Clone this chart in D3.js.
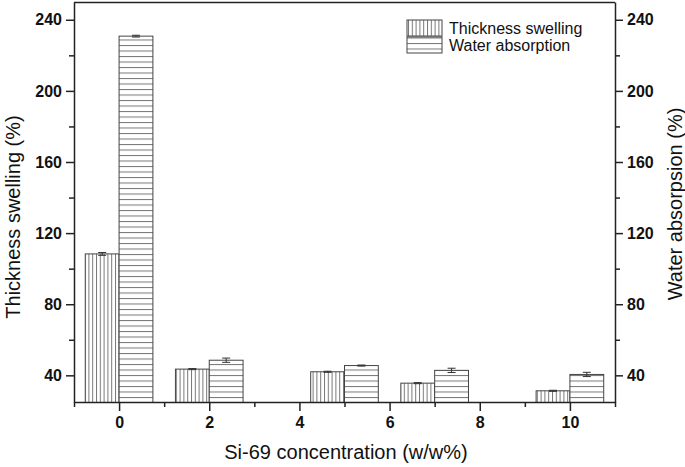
<!DOCTYPE html>
<html><head><meta charset="utf-8">
<script src="https://cdn.jsdelivr.net/npm/d3@7"></script>
<style>body{margin:0;background:#fff}svg{display:block}</style>
</head><body>
<script>
const concentrations = [0, 2, 5, 7, 10];
const thickness = [108.3, 43.5, 42.0, 35.6, 31.3];
const thicknessErr = [0.8, 0.3, 0.3, 0.3, 0.3];
const water = [230.8, 48.5, 45.5, 42.8, 40.5];
const waterErr = [0.5, 1.2, 0.3, 1.2, 1.2];
const xTicks = [0, 2, 4, 6, 8, 10];
const xMinor = [-1, 1, 3, 5, 7, 9, 11];
const yTicks = [40, 80, 120, 160, 200, 240];
const yMinor = [60, 100, 140, 180, 220];
const seriesNames = ["Thickness swelling", "Water absorption"];

const W = 685, H = 467;
const m = {left: 74, right: 615, top: 2, bottom: 402};
const svg = d3.select("body").append("svg").attr("width", W).attr("height", H)
  .style("font-family", "'Liberation Sans', Arial, sans-serif");

const x = d3.scaleLinear().domain([-1, 11]).range([m.left, m.right]);
const y = d3.scaleLinear().domain([25, 250]).range([m.bottom, m.top]);
const barW = 0.75;

const defs = svg.append("defs");
const pv = defs.append("pattern").attr("id", "pv").attr("patternUnits", "userSpaceOnUse")
  .attr("width", 3.8).attr("height", 10).attr("x", 1);
pv.append("rect").attr("width", 3.8).attr("height", 10).attr("fill", "#fff");
pv.append("line").attr("x1", 0.5).attr("x2", 0.5).attr("y1", 0).attr("y2", 10)
  .attr("stroke", "#777").attr("stroke-width", 1);
const ph = defs.append("pattern").attr("id", "ph").attr("patternUnits", "userSpaceOnUse")
  .attr("width", 10).attr("height", 5.5).attr("y", 1);
ph.append("rect").attr("width", 10).attr("height", 5.5).attr("fill", "#fff");
ph.append("line").attr("x1", 0).attr("x2", 10).attr("y1", 0.5).attr("y2", 0.5)
  .attr("stroke", "#777").attr("stroke-width", 1);

defs.append("clipPath").attr("id", "clip").append("rect")
  .attr("x", m.left).attr("y", m.top).attr("width", m.right - m.left).attr("height", m.bottom - m.top);

const g = svg.append("g").attr("clip-path", "url(#clip)");
const data = concentrations.map((c, i) => ({c, t: thickness[i], te: thicknessErr[i], w: water[i], we: waterErr[i]}));

g.selectAll(".bt").data(data).join("rect")
  .attr("x", d => x(d.c - barW)).attr("width", d => x(d.c) - x(d.c - barW))
  .attr("y", d => y(d.t)).attr("height", d => y(0) - y(d.t))
  .attr("fill", "url(#pv)").attr("stroke", "#444").attr("stroke-width", 1);
g.selectAll(".bw").data(data).join("rect")
  .attr("x", d => x(d.c)).attr("width", d => x(d.c + barW) - x(d.c))
  .attr("y", d => y(d.w)).attr("height", d => y(0) - y(d.w))
  .attr("fill", "url(#ph)").attr("stroke", "#444").attr("stroke-width", 1);

function errBars(acc, err, off) {
  const eg = svg.append("g").attr("stroke", "#333").attr("stroke-width", 1);
  data.forEach(d => {
    const cx = x(d.c + off);
    const v = acc(d), e = err(d);
    eg.append("line").attr("x1", cx).attr("x2", cx).attr("y1", y(v + e)).attr("y2", y(v - e));
    eg.append("line").attr("x1", cx - 4).attr("x2", cx + 4).attr("y1", y(v + e)).attr("y2", y(v + e));
    eg.append("line").attr("x1", cx - 4).attr("x2", cx + 4).attr("y1", y(v - e)).attr("y2", y(v - e));
  });
}
errBars(d => d.t, d => d.te, -barW / 2);
errBars(d => d.w, d => d.we, barW / 2);

const axCol = "#222";
svg.append("line").attr("x1", m.left).attr("x2", m.right).attr("y1", m.top + 0.5).attr("y2", m.top + 0.5)
  .attr("stroke", axCol).attr("stroke-width", 1.5);

function styleAxis(sel) {
  sel.select(".domain").attr("stroke", axCol).attr("stroke-width", 1.5);
  sel.selectAll(".tick line").attr("stroke", axCol).attr("stroke-width", 1.5);
  sel.selectAll("text").attr("font-size", 16).attr("font-weight", "bold").attr("fill", "#111")
    .attr("font-family", "'Liberation Sans', Arial, sans-serif");
}
function minor(s) { s.select(".domain").remove(); s.selectAll("line").attr("stroke", axCol).attr("stroke-width", 1.5); }

svg.append("g").attr("transform", `translate(0,${m.bottom})`)
  .call(d3.axisBottom(x).tickValues(xMinor).tickSize(5).tickFormat("").tickSizeOuter(0)).call(minor);
svg.append("g").attr("transform", `translate(${m.left},0)`)
  .call(d3.axisLeft(y).tickValues(yMinor).tickSize(5).tickFormat("").tickSizeOuter(0)).call(minor);
svg.append("g").attr("transform", `translate(${m.right},0)`)
  .call(d3.axisRight(y).tickValues(yMinor).tickSize(5).tickFormat("").tickSizeOuter(0)).call(minor);

const xa = svg.append("g").attr("transform", `translate(0,${m.bottom})`)
  .call(d3.axisBottom(x).tickValues(xTicks).tickSize(9).tickSizeOuter(0).tickPadding(6));
styleAxis(xa);
const ya = svg.append("g").attr("transform", `translate(${m.left},0)`)
  .call(d3.axisLeft(y).tickValues(yTicks).tickSize(8).tickSizeOuter(0).tickPadding(4));
styleAxis(ya);
const yr = svg.append("g").attr("transform", `translate(${m.right},0)`)
  .call(d3.axisRight(y).tickValues(yTicks).tickSize(8).tickSizeOuter(0).tickPadding(4));
styleAxis(yr);

svg.append("text").attr("x", 346).attr("y", 459).attr("text-anchor", "middle")
  .attr("font-size", 20).attr("fill", "#111").text("Si-69 concentration (w/w%)");
svg.append("text").attr("transform", `translate(20,217) rotate(-90)`)
  .attr("text-anchor", "middle").attr("font-size", 20).attr("fill", "#111").text("Thickness swelling (%)");
svg.append("text").attr("transform", `translate(682,204) rotate(-90)`)
  .attr("text-anchor", "middle").attr("font-size", 20).attr("fill", "#111").text("Water absorpsion (%)");

const lg = svg.append("g").attr("transform", "translate(407,20)");
["url(#pv)", "url(#ph)"].forEach((f, i) => {
  lg.append("rect").attr("x", 0).attr("y", i * 17).attr("width", 35).attr("height", 16)
    .attr("fill", f).attr("stroke", "#444").attr("stroke-width", 1);
  lg.append("text").attr("x", 42).attr("y", i * 17 + 14).attr("font-size", 16).attr("fill", "#111")
    .text(seriesNames[i]);
});
</script>
</body></html>
